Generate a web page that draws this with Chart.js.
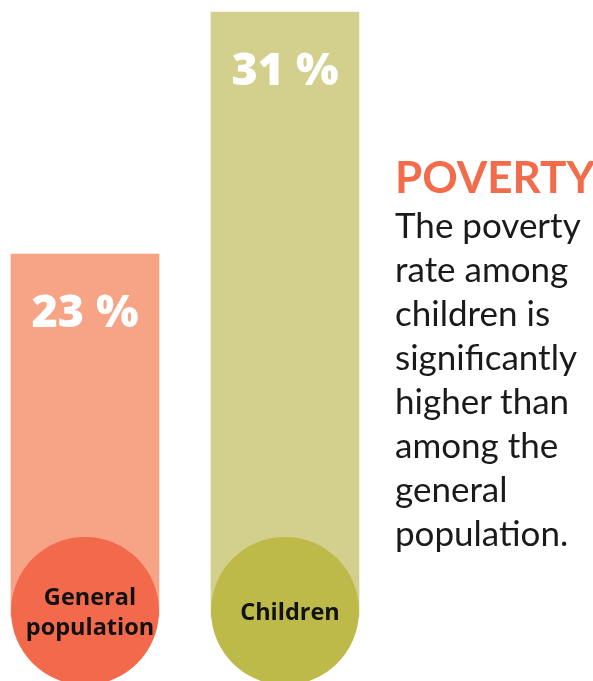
<!DOCTYPE html>
<html>
<head>
<meta charset="utf-8">
<script src="https://cdn.jsdelivr.net/npm/chart.js@4.4.1/dist/chart.umd.min.js"></script>
<style>
  html, body { margin: 0; padding: 0; background: #fff; }
  #wrap { position: relative; width: 593px; height: 681px; overflow: hidden; }
  #myChart { position: absolute; left: 0; top: 0; }
  #note { position: absolute; left: 395px; top: 150px; font-family: Lato, "Noto Sans", sans-serif; color: #1a1a1a; }
  #note h2 { margin: 0; font-size: 44px; line-height: 52px; font-weight: 700; color: #f26b4a; }
  #note p { margin: 0; font-size: 35px; line-height: 44px; }
</style>
</head>
<body>
<div id="wrap">
  <canvas id="myChart" width="593" height="681"></canvas>
  <div id="note">
    <h2>POVERTY</h2>
    <p>The poverty<br>rate among<br>children is<br>significantly<br>higher than<br>among the<br>general<br>population.</p>
  </div>
</div>
<script>
// Données du graphique
const categories = ['General population', 'Children'];
const labelLines = [['General', 'population'], ['Children']];
const rates = [23, 31];
const barColors = ['#f6a386', '#d3d08d'];
const circleColors = ['#f26a4b', '#bdba4a'];
// position des cercles sur l'axe y (bas des barres)
const circleLevel = [11.2, 11.2];

// Dessine les pourcentages et les noms dans les cercles
const labelPlugin = {
    id: 'labels',
    afterDatasetsDraw(chart) {
        const ctx = chart.ctx;
        const bars = chart.getDatasetMeta(1).data;
        const dots = chart.getDatasetMeta(0).data;
        ctx.save();
        ctx.textAlign = 'center';
        ctx.textBaseline = 'middle';
        bars.forEach((bar, i) => {
            ctx.fillStyle = '#ffffff';
            ctx.font = '800 45px "Open Sans", sans-serif';
            ctx.fillText(rates[i] + ' %', bar.x, bar.y + 60);
        });
        dots.forEach((dot, i) => {
            ctx.fillStyle = '#111111';
            ctx.font = 'bold 23.5px "Open Sans", sans-serif';
            const lines = labelLines[i];
            lines.forEach((line, j) => {
                const dy = (j - (lines.length - 1) / 2) * 30;
                ctx.fillText(line, dot.x + 5, dot.y + 2 + dy);
            });
        });
        ctx.restore();
    }
};

const ctx = document.getElementById('myChart').getContext('2d');
const chart = new Chart(ctx, {
    type: 'bar',
    data: {
        labels: categories,
        datasets: [
            {
                type: 'line',
                data: circleLevel,
                showLine: false,
                pointRadius: 74,
                pointHoverRadius: 74,
                pointBorderWidth: 0,
                pointBackgroundColor: circleColors,
                clip: false,
                order: 0
            },
            {
                type: 'bar',
                data: rates,
                base: 11,
                backgroundColor: barColors,
                barThickness: 148,
                borderWidth: 0,
                clip: false,
                order: 1
            }
        ]
    },
    options: {
        responsive: false,
        animation: false,
        events: [],
        layout: { autoPadding: false, padding: { left: 85, right: 308, top: 12, bottom: 64 } },
        scales: {
            x: { display: false, offset: false },
            y: { display: false, min: 11, max: 31 }
        },
        plugins: {
            legend: { display: false },
            tooltip: { enabled: false }
        }
    },
    plugins: [labelPlugin]
});
</script>
</body>
</html>
